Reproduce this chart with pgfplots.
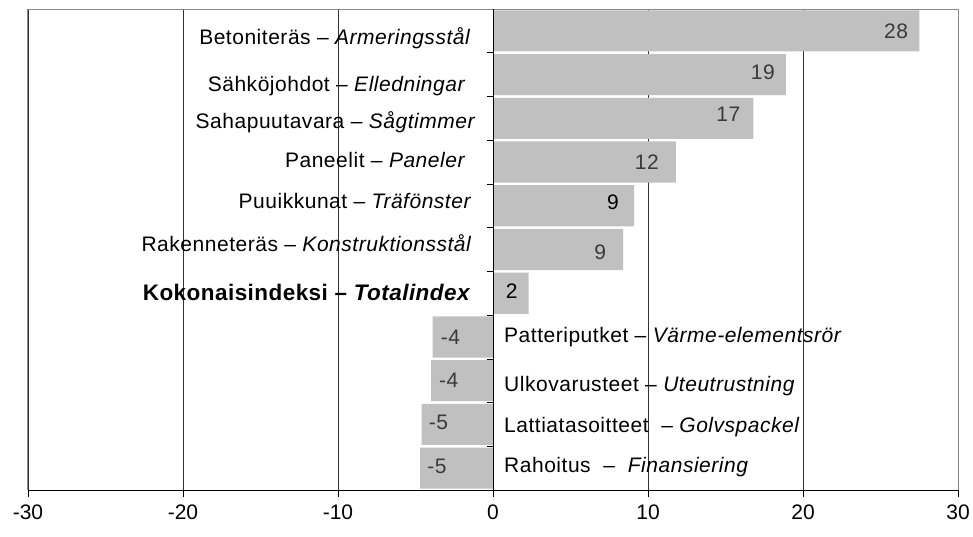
\documentclass[border=0pt]{standalone}
\usepackage{fontspec}
\setmainfont{Liberation Sans}
\newfontfamily\labfont[LetterSpace=2.5]{Liberation Sans}
\newfontfamily\boldlabfont[LetterSpace=2]{Liberation Sans}
\usepackage{pgfplots}
\pgfplotsset{compat=1.18}
\definecolor{barc}{HTML}{C0C0C0}
\definecolor{framec}{HTML}{888888}
\definecolor{vlab}{HTML}{3A3A3A}
\begin{document}
\begin{tikzpicture}[x=1pt,y=1pt]
\begin{axis}[
  at={(0,0)}, anchor=south west,
  scale only axis, width=930pt, height=481pt,
  xmin=-30, xmax=30, ymin=-0.5, ymax=10.5, y dir=reverse,
  axis line style={draw=none},
  xtick={-30,-20,...,30}, ytick=\empty,
  xtick pos=left, tick align=outside,
  major tick length=7pt,
  tick style={black, line width=0.6pt},
  xmajorgrids, grid style={black!80, line width=0.6pt},
  xticklabel style={font=\fontsize{21}{24}\selectfont, yshift=-4pt},
  /pgf/number format/assume math mode=true,
  clip=false,
]
\addplot[xbar, bar width=0.94, bar shift=0pt, fill=barc, draw=none]
  coordinates {(27.5,0) (18.9,1) (16.8,2) (11.8,3) (9.1,4) (8.4,5) (2.3,6)
               (-3.9,7) (-4.0,8) (-4.6,9) (-4.7,10)};
% frame and axis lines
\draw[framec, line width=1pt] (axis cs:-30,10.5) -- (axis cs:-30,-0.5) -- (axis cs:30,-0.5) -- (axis cs:30,10.5);
\draw[black, line width=1pt] (axis cs:-30,10.5) -- (axis cs:30,10.5);
\draw[black, line width=0.8pt] (axis cs:0,-0.5) -- (axis cs:0,10.5);
\pgfplotsinvokeforeach{0.5,1.5,2.5,3.5,4.5,5.5,6.5,7.5,8.5,9.5}{\draw[black, line width=0.6pt] (axis cs:0,#1) -- ++(-6pt,0pt);}
% category labels
\begin{scope}[every node/.style={font=\labfont\fontsize{21}{24}\selectfont, inner sep=0pt}]
\node[anchor=base east, xshift=-22pt, yshift=-14pt] at (axis cs:0,0) {Betoniteräs – \textit{Armeringsstål}};
\node[anchor=base east, xshift=-27pt, yshift=-16.5pt] at (axis cs:0,1) {Sähköjohdot – \textit{Elledningar}};
\node[anchor=base east, xshift=-17pt, yshift=-10pt] at (axis cs:0,2) {Sahapuutavara – \textit{Sågtimmer}};
\node[anchor=base east, xshift=-27pt, yshift=-5pt] at (axis cs:0,3) {Paneelit – \textit{Paneler}};
\node[anchor=base east, xshift=-21pt, yshift=-2.5pt] at (axis cs:0,4) {Puuikkunat – \textit{Träfönster}};
\node[anchor=base east, xshift=-21pt, yshift=-2pt] at (axis cs:0,5) {Rakenneteräs – \textit{Konstruktionsstål}};
\node[anchor=base east, xshift=-22pt, yshift=-7pt, font=\boldlabfont\fontsize{22.5}{26}\selectfont] at (axis cs:0,6) {\bfseries Kokonaisindeksi – \textit{Totalindex}};
\node[anchor=base west, xshift=11pt, yshift=-6pt] at (axis cs:0,7) {Patteriputket – \textit{Värme-elementsrör}};
\node[anchor=base west, xshift=11pt, yshift=-11pt] at (axis cs:0,8) {Ulkovarusteet – \textit{Uteutrustning}};
\node[anchor=base west, xshift=11pt, yshift=-8pt] at (axis cs:0,9) {Lattiatasoitteet \ – \textit{Golvspackel}};
\node[anchor=base west, xshift=11pt, yshift=-4pt] at (axis cs:0,10) {Rahoitus \ – \ \textit{Finansiering}};
% value labels
\node[vlab, anchor=base east, xshift=-11pt, yshift=-7.5pt] at (axis cs:27.5,0) {28};
\node[vlab, anchor=base east, xshift=-11pt, yshift=-5pt] at (axis cs:18.9,1) {19};
\node[vlab, anchor=base east, xshift=-13pt, yshift=-3.5pt] at (axis cs:16.8,2) {17};
\node[vlab, anchor=base east, xshift=-17pt, yshift=-7.5pt] at (axis cs:11.8,3) {12};
\node[black, anchor=base east, xshift=-15pt, yshift=-3.5pt] at (axis cs:9.1,4) {9};
\node[vlab, anchor=base east, xshift=-17pt, yshift=-9.5pt] at (axis cs:8.4,5) {9};
\node[black, anchor=base east, xshift=-11pt, yshift=-5.5pt] at (axis cs:2.3,6) {2};
\node[vlab, anchor=base west, xshift=8pt, yshift=-7.5pt] at (axis cs:-3.9,7) {-4};
\node[vlab, anchor=base west, xshift=8pt, yshift=-6.5pt] at (axis cs:-4.0,8) {-4};
\node[vlab, anchor=base west, xshift=7pt, yshift=-5.5pt] at (axis cs:-4.6,9) {-5};
\node[vlab, anchor=base west, xshift=7pt, yshift=-5.5pt] at (axis cs:-4.7,10) {-5};
\end{scope}
\end{axis}
\pgfresetboundingbox
\path (-28pt,-46pt) rectangle (945pt,490pt);
\end{tikzpicture}
\end{document}
